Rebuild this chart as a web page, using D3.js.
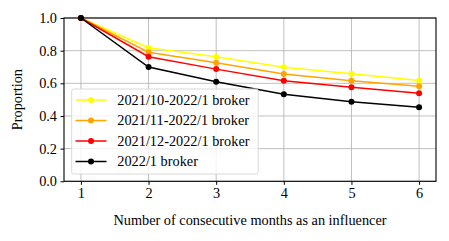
<!DOCTYPE html>
<meta charset='utf-8'>
<style>
    body { margin: 0; background: #fff; }
    text { font-family: "Liberation Serif", "Times New Roman", serif; fill: #000; }
    .grid line { stroke: #b0b0b0; stroke-width: 0.8; }
    .axis path, .axis line { stroke: #000; }
</style>

<svg width="449" height="241"></svg>
<script src="https://d3js.org/d3.v7.min.js"></script>

<script>

var months = [1, 2, 3, 4, 5, 6];
var xTicks = [1, 2, 3, 4, 5, 6];
var yTicks = [0, 0.2, 0.4, 0.6, 0.8, 1.0];

var seriesNames = ['2021/10-2022/1 broker', '2021/11-2022/1 broker', '2021/12-2022/1 broker', '2022/1 broker'];
var seriesColors = ['#ffff00', '#ffa500', '#ff0000', '#000000'];
var oct = [1.0, 0.818, 0.763, 0.698, 0.659, 0.618];
var nov = [1.0, 0.790, 0.726, 0.657, 0.616, 0.582];
var dec = [1.0, 0.763, 0.687, 0.616, 0.576, 0.539];
var jan = [1.0, 0.700, 0.610, 0.533, 0.487, 0.453];
var seriesValues = [oct, nov, dec, jan];

var svg = d3.select('svg');
var plotLeft = 64, plotRight = 436, plotTop = 18, plotBottom = 181.3;
var fontSize = '14.3px';

var x = d3.scaleLinear().domain([0.75, 6.25]).range([plotLeft, plotRight]);
var y = d3.scaleLinear().domain([0, 1]).range([plotBottom, plotTop]);

// grid
var grid = svg.append('g').attr('class', 'grid');
grid.selectAll('.gx').data(xTicks).enter().append('line')
    .attr('x1', d => x(d)).attr('x2', d => x(d))
    .attr('y1', plotTop).attr('y2', plotBottom);
grid.selectAll('.gy').data(yTicks).enter().append('line')
    .attr('x1', plotLeft).attr('x2', plotRight)
    .attr('y1', d => y(d)).attr('y2', d => y(d));

// lines
var line = d3.line().x((d, i) => x(months[i])).y(d => y(d));
seriesValues.forEach(function(vals, k) {
    var g = svg.append('g');
    g.append('path')
        .datum(vals)
        .attr('fill', 'none')
        .attr('stroke', seriesColors[k])
        .attr('stroke-width', 1.5)
        .attr('d', line);
    g.selectAll('circle').data(vals).enter().append('circle')
        .attr('cx', (d, i) => x(months[i]))
        .attr('cy', d => y(d))
        .attr('r', 3)
        .attr('fill', seriesColors[k]);
});

// axes
svg.append('g').attr('class', 'axis')
    .attr('transform', 'translate(0,' + plotBottom + ')')
    .call(d3.axisBottom(x).tickValues(xTicks).tickFormat(d3.format('d')).tickSize(3.5).tickPadding(3.5).tickSizeOuter(0));
svg.append('g').attr('class', 'axis')
    .attr('transform', 'translate(' + plotLeft + ',0)')
    .call(d3.axisLeft(y).tickValues(yTicks).tickFormat(d3.format('.1f')).tickSize(3.5).tickPadding(3.5).tickSizeOuter(0));
svg.selectAll('.axis').attr('font-family', null).attr('font-size', null);
svg.selectAll('.axis text').style('font-size', fontSize);
svg.selectAll('.axis path').remove();

svg.append('rect')
    .attr('x', plotLeft).attr('y', plotTop)
    .attr('width', plotRight - plotLeft).attr('height', plotBottom - plotTop)
    .attr('fill', 'none').attr('stroke', '#000').attr('stroke-width', 1.1);

// labels
svg.append('text')
    .attr('x', (plotLeft + plotRight) / 2).attr('y', 225)
    .attr('text-anchor', 'middle')
    .style('font-size', fontSize)
    .text('Number of consecutive months as an influencer');
svg.append('text')
    .attr('transform', 'translate(22,' + ((plotTop + plotBottom) / 2) + ') rotate(-90)')
    .attr('text-anchor', 'middle')
    .style('font-size', fontSize)
    .text('Proportion');

// legend
var legend = svg.append('g');
legend.append('rect')
    .attr('x', 71.7).attr('y', 89).attr('width', 186.5).attr('height', 85)
    .attr('rx', 2)
    .attr('fill', '#fff').attr('fill-opacity', 0.8)
    .attr('stroke', '#d9d9d9').attr('stroke-width', 1);
seriesNames.forEach(function(name, k) {
    var ly = 100 + k * 20.5;
    legend.append('line')
        .attr('x1', 75.5).attr('x2', 106.5).attr('y1', ly).attr('y2', ly)
        .attr('stroke', seriesColors[k]).attr('stroke-width', 1.5);
    legend.append('circle')
        .attr('cx', 91).attr('cy', ly).attr('r', 3).attr('fill', seriesColors[k]);
    legend.append('text')
        .attr('x', 117.3).attr('y', ly + 4.9)
        .style('font-size', fontSize)
        .text(name);
});
</script>
